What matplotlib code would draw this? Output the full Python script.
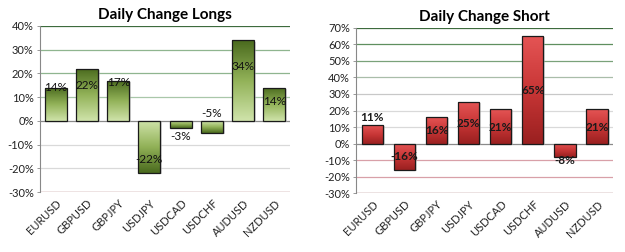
import numpy as np
import matplotlib
matplotlib.use("Agg")
import matplotlib.pyplot as plt
from matplotlib.colors import LinearSegmentedColormap

# data
pairs = ["EURUSD", "GBPUSD", "GBPJPY", "USDJPY", "USDCAD", "USDCHF", "AUDUSD", "NZDUSD"]
longs = [14, 22, 17, -22, -3, -5, 34, 14]
shorts = [11, -16, 16, 25, 21, 65, -8, 21]
# where the value labels sit (in %, estimated)
longs_label_y = [14, 15, 16, -16.5, -6.5, 3, 23, 8]
shorts_label_y = [15.5, -8, 8, 12, 10, 32, -10.5, 10]

plt.rcParams['font.family'] = ['Lato', 'DejaVu Sans']

fig = plt.figure(figsize=(6.25, 2.52), dpi=100)
fig.patch.set_facecolor("white")

ax1 = fig.add_axes([0.064, 0.238, 0.40, 0.659])
ax2 = fig.add_axes([0.570, 0.234, 0.411, 0.655])

green_cm = LinearSegmentedColormap.from_list("g", ["#cfe3aa", "#92b258", "#4a6a1e"])
red_cm = LinearSegmentedColormap.from_list("r", ["#e45454", "#c83636", "#9a2020"])


def grad_bars(ax, vals, cmap, width, light_at_base):
    x = np.arange(len(vals))
    bars = ax.bar(x, vals, width=width, facecolor="none", edgecolor="#1a1a1a",
                  linewidth=0.9, zorder=4)
    for b, v in zip(bars, vals):
        x0 = b.get_x()
        x1 = x0 + b.get_width()
        # little drop shadow
        ax.add_patch(plt.Rectangle((x0 + 0.06, min(0, v) - 0.6), b.get_width(), abs(v),
                                   facecolor="#b0b0b0", edgecolor="none", alpha=0.5, zorder=2))
        g = np.linspace(0, 1, 100).reshape(-1, 1)
        if light_at_base:
            ext = [x0, x1, 0, v]
        else:
            ext = [x0, x1, min(0, v), max(0, v)]
            g = g[::-1]
        im = ax.imshow(g, cmap=cmap, extent=ext, origin="lower", aspect="auto",
                       zorder=3, interpolation="bilinear")
        im.set_clip_path(b)
    return bars


def style(ax, lo, hi, grid_colors, title):
    ax.set_ylim(lo, hi)
    ax.set_xlim(-0.5, len(pairs) - 0.5)
    ticks = np.arange(lo, hi + 1, 10)
    ax.set_yticks(ticks)
    ax.set_yticklabels(["%d%%" % t for t in ticks], fontsize=8, color="#222222")
    for t in ticks:
        ax.axhline(t, color=grid_colors.get(t, "#d9d9d9"), linewidth=0.9, zorder=1)
    ax.set_xticks(np.arange(len(pairs)))
    ax.set_xticklabels(pairs, rotation=45, ha="right", rotation_mode="anchor",
                       fontsize=8, color="#222222")
    for s in ["top", "right", "bottom"]:
        ax.spines[s].set_visible(False)
    ax.spines["left"].set_color("#888888")
    ax.spines["left"].set_linewidth(0.8)
    ax.tick_params(axis="y", length=2.5, width=0.6, color="#888888", pad=2)
    ax.tick_params(axis="x", length=0, pad=4)
    ax.set_title(title, fontsize=11, fontweight="bold", pad=5)


grad_bars(ax1, longs, green_cm, 0.7, True)
style(ax1, -30, 40,
      {40: "#3d6b3d", 30: "#8fb58f", 20: "#8fb58f", 10: "#a9c7a9",
       0: "#8a8a8a", -30: "#7a2424"},
      "Daily Change Longs")
for i, (v, ly) in enumerate(zip(longs, longs_label_y)):
    ax1.text(i, ly, "%d%%" % v, ha="center", va="center", fontsize=8.5,
             color="#111111", zorder=6)

grad_bars(ax2, shorts, red_cm, 0.66, False)
style(ax2, -30, 70,
      {70: "#3d6b3d", 60: "#5f8f5f", 50: "#7aa27a", 40: "#a9bda9",
       30: "#c8c8c8", 0: "#8a8a8a", -10: "#d8a0a8", -20: "#d8a0a8",
       -30: "#6a1a1a"},
      "Daily Change Short")
for i, (v, ly) in enumerate(zip(shorts, shorts_label_y)):
    ax2.text(i, ly, "%d%%" % v, ha="center", va="center", fontsize=8.5,
             fontweight="bold", color="#1a1a1a", zorder=6)

fig.savefig("out.png", dpi=100)
